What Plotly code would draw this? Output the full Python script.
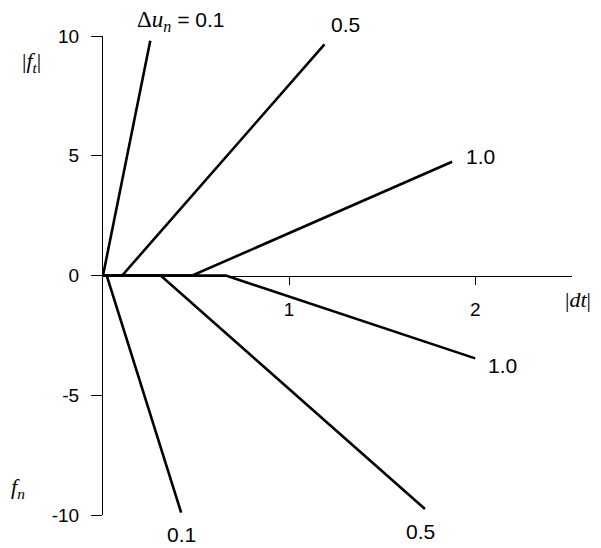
import plotly.graph_objects as go

# Series: (|dt|, force) breakpoints for each Δu_n curve
labels = ["0.1", "0.5", "1.0"]
upper_x = [[0.0, 0.254], [0.0, 0.103, 1.19], [0.0, 0.48, 1.876]]
upper_y = [[0.0, 9.8], [0.0, 0.0, 9.65], [0.0, 0.0, 4.75]]
lower_x = [[0.0, 0.02, 0.42], [0.0, 0.31, 1.73], [0.0, 0.66, 2.0]]
lower_y = [[0.0, 0.0, -9.9], [0.0, 0.0, -9.75], [0.0, 0.0, -3.46]]

x_ticks = [1, 2]
y_ticks = [-10, -5, 0, 5, 10]

fig = go.Figure()
for xs, ys in zip(upper_x + lower_x, upper_y + lower_y):
    fig.add_trace(go.Scatter(x=xs, y=ys, mode="lines",
                             line=dict(color="black", width=2.6),
                             showlegend=False, hoverinfo="skip", cliponaxis=False))

serif = "Liberation Serif, Times New Roman, serif"
sans = "Liberation Sans, Arial, sans-serif"
lab_font = dict(family=sans, size=21, color="black")
ser_font = dict(family=serif, size=22, color="black")


def lab(x, y, text, font, ref="paper"):
    return dict(x=x, y=y, xref=ref, yref=ref, text=text, showarrow=False,
                xanchor="center", yanchor="middle", font=font)


ann = [
    lab(0.166, 1.031,
        "<span style='font-family:Liberation Serif;font-size:23px'>Δ<i>u</i><sub><i>n</i></sub></span>"
        " = " + labels[0], lab_font),
    lab(0.516, 1.023, labels[1], lab_font),
    lab(2.027, 4.97, labels[2], lab_font, ref="x"),
    lab(0.168, -0.04, labels[0], lab_font),
    lab(0.676, -0.035, labels[1], lab_font),
    lab(2.145, -3.76, labels[2], lab_font, ref="x"),
    lab(1.013, 0.449, "|<i>dt</i>|", ser_font),
    lab(-0.1535, 0.946, "|<i>f</i><sub><i>t</i></sub>|", ser_font),
    lab(-0.181, 0.056, "<i>f</i><sub><i>n</i></sub>", ser_font),
]
ann[2]["yref"] = "y"
ann[5]["yref"] = "y"

fig.update_layout(
    width=593, height=540,
    margin=dict(l=95, r=29, t=28, b=33),
    paper_bgcolor="white", plot_bgcolor="white",
    annotations=ann,
    xaxis=dict(range=[0, 2.52], tickvals=x_ticks, ticktext=[str(v) for v in x_ticks],
               showgrid=False, zeroline=False, showline=True, linecolor="black", linewidth=1,
               ticks="outside", ticklen=8, tickcolor="black", tickwidth=1,
               anchor="free", position=0.5, ticklabelstandoff=9,
               tickfont=dict(family=sans, size=19, color="black")),
    yaxis=dict(range=[-10, 10], tickvals=y_ticks, ticktext=[str(v) for v in y_ticks],
               showgrid=False, zeroline=False, showline=True, linecolor="black", linewidth=1,
               ticks="outside", ticklen=11, tickcolor="black", tickwidth=1,
               ticklabelstandoff=8,
               tickfont=dict(family=sans, size=19, color="black")),
)

fig.write_html("out.html")
